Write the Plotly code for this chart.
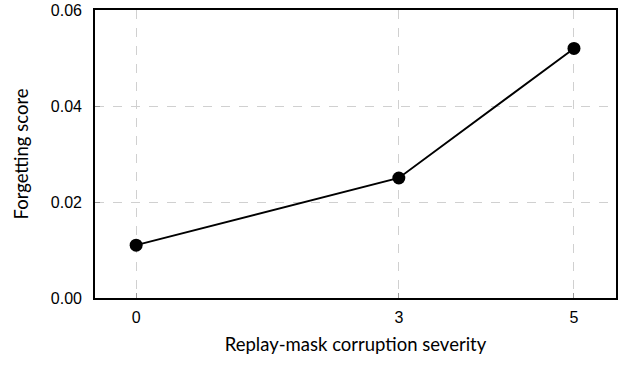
import plotly.graph_objects as go

severity = [0, 3, 5]
forgetting = [0.011, 0.025, 0.052]
y_ticks = [0.00, 0.02, 0.04, 0.06]
y_tick_labels = ["0.00", "0.02", "0.04", "0.06"]

fig = go.Figure()
fig.add_trace(go.Scatter(
    x=severity, y=forgetting, mode="lines+markers",
    line=dict(color="black", width=1.9),
    marker=dict(color="black", size=13),
    showlegend=False, cliponaxis=False,
))

axis_common = dict(
    showline=True, linecolor="black", linewidth=1.6, mirror=True,
    showgrid=True, gridcolor="#d0d0d0", griddash="dash", gridwidth=1,
    ticks="inside", ticklen=5, tickcolor="#999999", tickwidth=1,
    zeroline=False, automargin=False,
    tickfont=dict(family="Liberation Sans", size=16, color="black"),
    title_font=dict(family="Lato", size=18.5, color="black"),
)

fig.update_xaxes(
    range=[-0.47, 5.48], tickvals=severity, ticktext=[str(s) for s in severity],
    title_text="Replay-mask corruption severity", title_standoff=13, ticklabelstandoff=4,
    **axis_common,
)
fig.update_yaxes(
    range=[0, 0.06], tickvals=y_ticks, ticktext=y_tick_labels,
    title_text="Forgetting score", title_standoff=17, ticklabelstandoff=8,
    **axis_common,
)

fig.update_layout(
    width=627, height=365, autosize=False,
    margin=dict(l=95, r=11, t=10, b=67, autoexpand=False),
    plot_bgcolor="white", paper_bgcolor="white",
    font=dict(family="Liberation Sans", size=16, color="black"),
)

fig.write_html("out.html", config={"displayModeBar": False},
               post_script="document.body.style.margin='0';")
